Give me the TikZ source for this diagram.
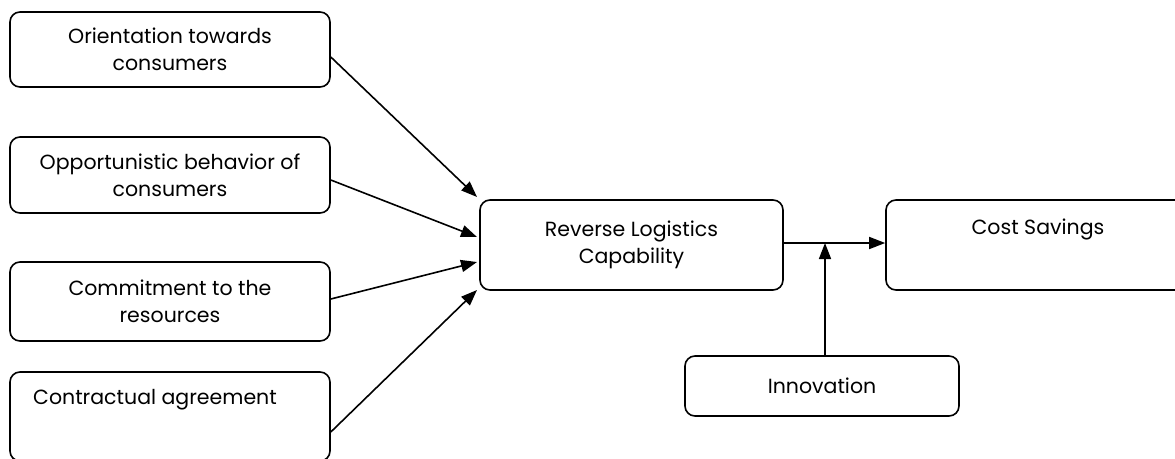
\documentclass[tikz,border=0pt]{standalone}
\usepackage{fontspec}
\setmainfont{Poppins}
\usetikzlibrary{arrows.meta}
\tikzset{
  box/.style={draw, line width=1.6pt, rounded corners=10pt, inner sep=0pt, align=center,
    font=\fontsize{20.5}{27}\selectfont},
  lbl/.style={inner sep=0pt, font=\fontsize{20.5}{27}\selectfont},
  arr/.style={line width=1.6pt, -{Triangle[length=16pt,width=12pt]}}
}
\begin{document}
\begin{tikzpicture}[x=1pt,y=-1pt]
\useasboundingbox (0,0) rectangle (1175,458);
\node[box, minimum width=320pt, minimum height=75pt] (b1) at (170,49.5) {Orientation towards\\consumers};
\node[box, minimum width=320pt, minimum height=76pt] (b2) at (170,175) {Opportunistic behavior of\\consumers};
\node[box, minimum width=320pt, minimum height=79pt] (b3) at (170,301.5) {Commitment to the\\resources};
\node[box, minimum width=320pt, minimum height=89pt] (b4) at (170,416.5) {};
\node[lbl, anchor=west] (t4) at (33,400) {Contractual agreement};
\node[box, minimum width=303pt, minimum height=90pt] (rlc) at (631.5,245) {Reverse Logistics\\Capability};
\node[box, minimum width=304pt, minimum height=90pt] (cs) at (1038,245) {};
\node[lbl] (tcs) at (1038,229) {Cost Savings};
\node[box, minimum width=274pt, minimum height=60pt] (inn) at (822,386) {Innovation};
\coordinate (e1) at (477,197);
\coordinate (e2) at (477,237);
\coordinate (e3) at (477,262);
\coordinate (e4) at (477,290);
\coordinate (j) at (825,243);
\draw[arr] (b1.east |- 0,57) -- (e1);
\draw[arr] (b2.east |- 0,180) -- (e2);
\draw[arr] (b3.east |- 0,299) -- (e3);
\draw[arr] (b4.east |- 0,432) -- (e4);
\draw[arr] (rlc.east |- j) -- (cs.west |- j);
\draw[arr] (inn.north -| j) -- (j);
\end{tikzpicture}
\end{document}
